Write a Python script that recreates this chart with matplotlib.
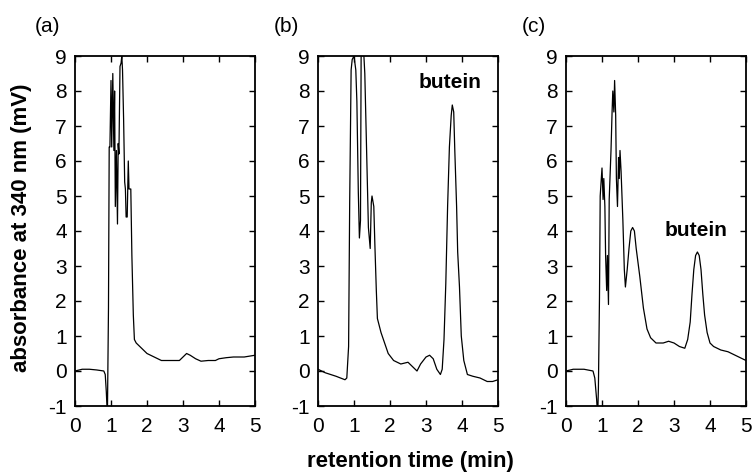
import matplotlib
matplotlib.use("Agg")
import matplotlib.pyplot as plt

plt.rcParams['font.family'] = ['Liberation Sans', 'DejaVu Sans']
plt.rcParams['axes.unicode_minus'] = False

# ---- data ----
time_a = [0.0, 0.2, 0.4, 0.6, 0.8, 0.84, 0.87, 0.9, 0.93, 0.95, 0.97, 1.0, 1.02, 1.05, 1.08, 1.1,
          1.12, 1.15, 1.18, 1.2, 1.22, 1.25, 1.28, 1.3, 1.32, 1.35, 1.38, 1.4, 1.42, 1.45, 1.48,
          1.5, 1.55, 1.58, 1.62, 1.65, 1.7, 1.8, 1.9, 2.0, 2.2, 2.4, 2.6, 2.9, 3.0, 3.1, 3.2,
          3.35, 3.5, 3.7, 3.9, 4.0, 4.2, 4.4, 4.7, 5.0]
abs_a = [0.0, 0.05, 0.05, 0.03, 0.0, -0.1, -0.6, -1.3, 1.8, 6.4, 6.4, 8.3, 6.4, 8.5, 6.3, 8.0,
         4.7, 6.3, 4.2, 6.5, 6.2, 8.7, 8.8, 9.0, 8.6, 7.2, 5.4, 5.2, 4.4, 4.4, 6.0,
         5.2, 5.2, 3.3, 1.6, 0.9, 0.8, 0.7, 0.6, 0.5, 0.4, 0.3, 0.3, 0.3, 0.4, 0.5, 0.45,
         0.35, 0.28, 0.3, 0.3, 0.35, 0.38, 0.4, 0.4, 0.45]

time_b = [0.0, 0.2, 0.5, 0.75, 0.8, 0.85, 0.88, 0.92, 0.95, 1.0, 1.05, 1.08, 1.12, 1.15, 1.18,
          1.2, 1.25, 1.3, 1.35, 1.4, 1.45, 1.48, 1.5, 1.55, 1.58, 1.62, 1.65, 1.75, 1.85, 1.95,
          2.1, 2.3, 2.5, 2.6, 2.75, 2.85, 3.0, 3.1, 3.2, 3.3, 3.4, 3.45, 3.5, 3.55, 3.6, 3.65,
          3.7, 3.73, 3.77, 3.8, 3.85, 3.88, 3.93, 3.98, 4.05, 4.15, 4.3, 4.5, 4.7, 4.85, 5.0]
abs_b = [0.05, -0.05, -0.15, -0.25, -0.2, 0.7, 4.8, 8.6, 8.9, 9.0, 8.6, 7.7, 5.1, 3.8, 4.3,
         9.5, 9.5, 8.5, 6.3, 4.1, 3.5, 4.8, 5.0, 4.7, 3.6, 2.3, 1.5, 1.1, 0.8, 0.5,
         0.3, 0.2, 0.25, 0.15, 0.0, 0.2, 0.4, 0.45, 0.35, 0.05, -0.1, 0.05, 0.9, 2.5, 4.7, 6.4,
         7.3, 7.6, 7.4, 6.3, 4.7, 3.4, 2.4, 1.0, 0.3, -0.1, -0.15, -0.2, -0.3, -0.3, -0.25]

time_c = [0.0, 0.2, 0.5, 0.75, 0.8, 0.85, 0.88, 0.9, 0.93, 0.95, 1.0, 1.03, 1.05, 1.08, 1.1,
          1.13, 1.15, 1.18, 1.2, 1.25, 1.28, 1.3, 1.33, 1.35, 1.38, 1.4, 1.43, 1.46, 1.48, 1.5,
          1.53, 1.58, 1.62, 1.65, 1.7, 1.75, 1.8, 1.85, 1.9, 1.95, 2.05, 2.15, 2.25, 2.35, 2.5,
          2.7, 2.85, 3.0, 3.15, 3.3, 3.38, 3.45, 3.5, 3.55, 3.6, 3.65, 3.7, 3.75, 3.8, 3.85,
          3.92, 4.0, 4.1, 4.3, 4.5, 4.7, 5.0]
abs_c = [0.0, 0.05, 0.05, 0.0, -0.2, -0.8, -1.3, -0.5, 2.1, 5.0, 5.8, 4.9, 5.5, 4.7, 3.3,
         2.3, 3.3, 1.9, 4.9, 6.3, 7.4, 8.0, 7.4, 8.3, 7.3, 5.5, 4.7, 6.1, 5.5, 6.3,
         5.7, 4.3, 2.9, 2.4, 2.9, 3.5, 4.0, 4.1, 4.0, 3.5, 2.7, 1.8, 1.2, 0.95, 0.8,
         0.8, 0.85, 0.8, 0.7, 0.65, 0.9, 1.4, 2.2, 2.9, 3.3, 3.4, 3.3, 2.9, 2.2, 1.6,
         1.1, 0.8, 0.7, 0.6, 0.55, 0.45, 0.3]

panel_labels = ['(a)', '(b)', '(c)']
x_ticks = [0, 1, 2, 3, 4, 5]
y_ticks = [-1, 0, 1, 2, 3, 4, 5, 6, 7, 8, 9]
annotations = [None, ('butein', 3.67, 8.25), ('butein', 3.6, 4.0)]

W, H = 752, 474
fig = plt.figure(figsize=(W / 100, H / 100), dpi=100)

lefts = [75, 318, 566]
label_x = [48, 286, 534]
ax_w = 180
top_px, bot_px = 56, 406

series = [(time_a, abs_a), (time_b, abs_b), (time_c, abs_c)]
for i, (t, a) in enumerate(series):
    ax = fig.add_axes([lefts[i] / W, (H - bot_px) / H, ax_w / W, (bot_px - top_px) / H])
    ax.plot(t, a, color='black', linewidth=0.9)
    ax.set_xlim(0, 5)
    ax.set_ylim(-1, 9)
    ax.set_xticks(x_ticks)
    ax.set_yticks(y_ticks)
    ax.tick_params(direction='in', top=True, right=True, length=4, width=1,
                   labelsize=15, pad=6)
    ax.tick_params(axis='x', pad=8)
    for sp in ax.spines.values():
        sp.set_linewidth(1.3)
    fig.text(label_x[i] / W, 1 - 27 / H, panel_labels[i], ha='center', va='center', fontsize=15)
    if annotations[i] is not None:
        txt, xx, yy = annotations[i]
        ax.text(xx, yy, txt, ha='center', va='center', fontsize=15, fontweight='bold')

fig.text(22 / W, 1 - 228 / H, 'absorbance at 340 nm (mV)', rotation=90, ha='center', va='center',
         fontsize=16, fontweight='bold')
fig.text(410 / W, 1 - 462 / H, 'retention time (min)', ha='center', va='center',
         fontsize=16, fontweight='bold')

fig.savefig('out.png', dpi=100)
